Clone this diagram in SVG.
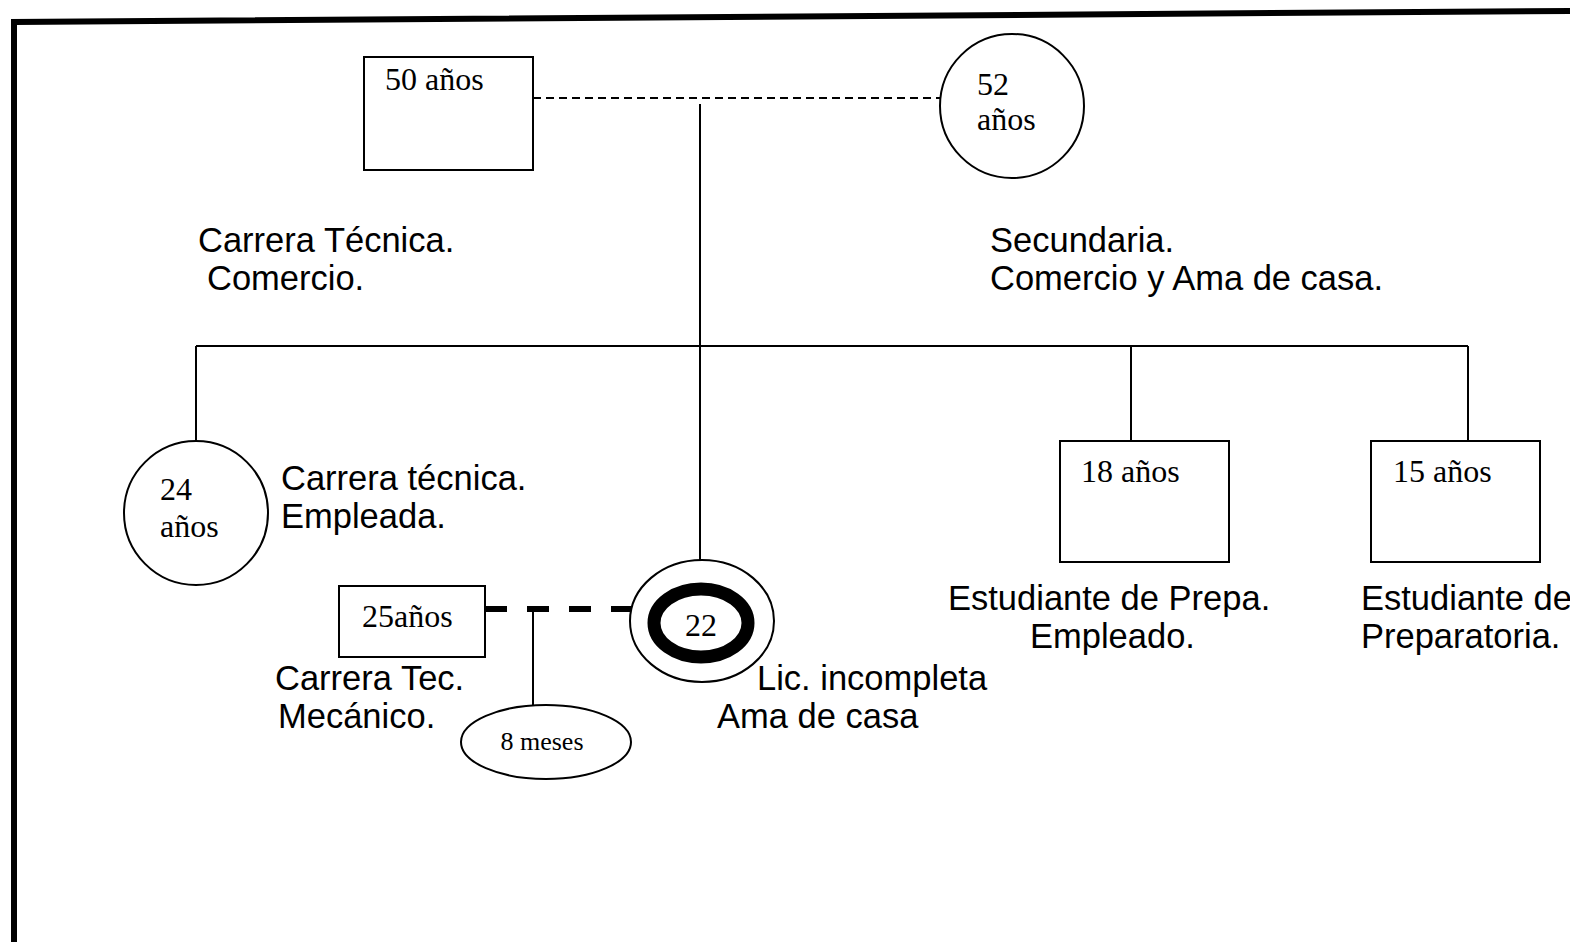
<svg xmlns="http://www.w3.org/2000/svg" width="1570" height="942" viewBox="0 0 1570 942">
<style>
.s{font-family:"Liberation Sans",Arial,sans-serif;font-size:34.5px;fill:#000}
.t{font-family:"Liberation Serif","Times New Roman",serif;font-size:32px;fill:#000}
.n{fill:#fff;stroke:#000;stroke-width:2}
.l{stroke:#000;stroke-width:2;fill:none}
</style>
<rect width="1570" height="942" fill="#fff"/>
<g id="frame">
<path d="M14,942 L14,22 L1570,11" fill="none" stroke="#000" stroke-width="6"/>
</g>
<g id="connectors">
<line class="l" x1="533" y1="98" x2="940" y2="98" stroke-dasharray="8,5"/>
<line class="l" x1="700" y1="104" x2="700" y2="560"/>
<line class="l" x1="196" y1="346" x2="1468" y2="346"/>
<line class="l" x1="196" y1="346" x2="196" y2="441"/>
<line class="l" x1="1131" y1="346" x2="1131" y2="441"/>
<line class="l" x1="1468" y1="346" x2="1468" y2="441"/>
<line x1="485" y1="609" x2="631" y2="609" stroke="#000" stroke-width="6" stroke-dasharray="22,20"/>
<line class="l" x1="533" y1="609" x2="533" y2="705"/>
</g>
<g id="father">
<rect class="n" x="364" y="57" width="169" height="113"/>
<text class="t" x="385" y="90">50 años</text>
</g>
<g id="mother">
<ellipse class="n" cx="1012" cy="106" rx="72" ry="72"/>
<text class="t" x="977" y="95">52</text>
<text class="t" x="977" y="130">años</text>
</g>
<g id="father-info">
<text class="s" x="198" y="252">Carrera Técnica.</text>
<text class="s" x="207" y="290">Comercio.</text>
</g>
<g id="mother-info">
<text class="s" x="990" y="252">Secundaria.</text>
<text class="s" x="990" y="290">Comercio y Ama de casa.</text>
</g>
<g id="daughter24">
<ellipse class="n" cx="196" cy="513" rx="72" ry="72"/>
<text class="t" x="160" y="500">24</text>
<text class="t" x="160" y="537">años</text>
<text class="s" x="281" y="490">Carrera técnica.</text>
<text class="s" x="281" y="528">Empleada.</text>
</g>
<g id="son18">
<rect class="n" x="1060" y="441" width="169" height="121"/>
<text class="t" x="1081" y="482">18 años</text>
<text class="s" x="948" y="610">Estudiante de Prepa.</text>
<text class="s" x="1030" y="648">Empleado.</text>
</g>
<g id="son15">
<rect class="n" x="1371" y="441" width="169" height="121"/>
<text class="t" x="1393" y="482">15 años</text>
<text class="s" x="1361" y="610">Estudiante de</text>
<text class="s" x="1361" y="648">Preparatoria.</text>
</g>
<g id="husband25">
<rect class="n" x="339" y="586" width="146" height="71" stroke-width="3"/>
<text class="t" x="362" y="627">25años</text>
<text class="s" x="275" y="690">Carrera Tec.</text>
<text class="s" x="278" y="728">Mecánico.</text>
</g>
<g id="index22">
<ellipse class="n" cx="702" cy="621" rx="72" ry="61" stroke-width="3"/>
<ellipse cx="701" cy="623" rx="47" ry="34" fill="#fff" stroke="#000" stroke-width="13"/>
<text class="t" x="701" y="636" text-anchor="middle">22</text>
<text class="s" x="757" y="690">Lic. incompleta</text>
<text class="s" x="717" y="728">Ama de casa</text>
</g>
<g id="child8m">
<ellipse class="n" cx="546" cy="742" rx="85" ry="37" stroke-width="3"/>
<text class="t" x="542" y="750" text-anchor="middle" style="font-size:26px">8 meses</text>
</g>
</svg>
